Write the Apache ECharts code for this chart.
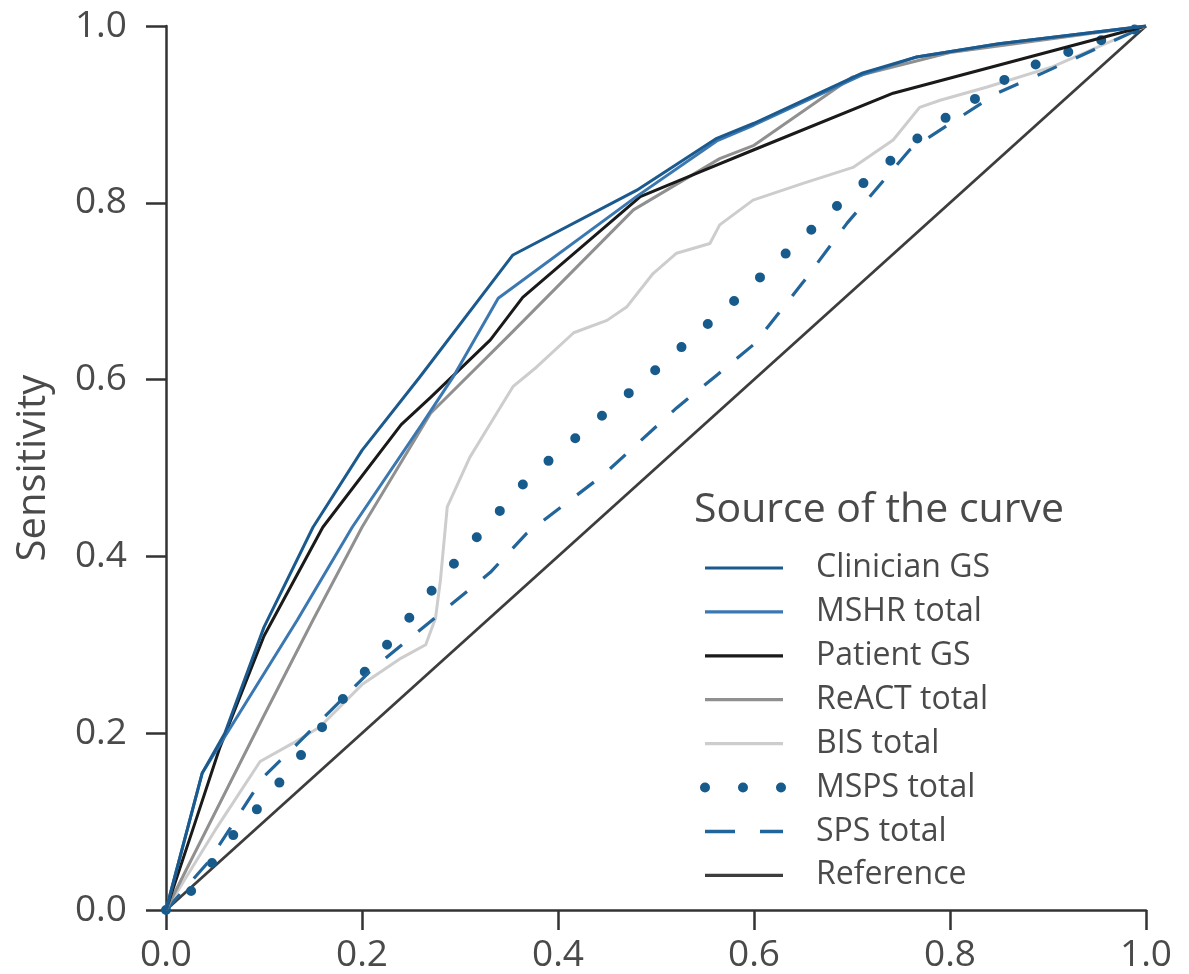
<!DOCTYPE html>
<html>
<head>
<meta charset="utf-8">
<script src="https://cdn.jsdelivr.net/npm/echarts@6/dist/echarts.min.js"></script>
<style>
  html, body { margin: 0; padding: 0; background: #ffffff; }
  #chart { width: 1189px; height: 974px; }
</style>
</head>
<body>
<div id="chart"></div>
<script>
// ---- Data (1 - specificity, sensitivity) ----
const tickLabels = ['0.0', '0.2', '0.4', '0.6', '0.8', '1.0'];
const seriesNames = ['Clinician GS', 'MSHR total', 'Patient GS', 'ReACT total', 'BIS total', 'MSPS total', 'SPS total', 'Reference'];
const legendTitle = 'Source of the curve';
const yAxisName = 'Sensitivity';

const clinicianGS = [[0,0],[0.037,0.155],[0.06,0.2],[0.1,0.32],[0.15,0.433],[0.2,0.52],[0.259,0.603],[0.354,0.741],[0.48,0.814],[0.562,0.873],[0.6,0.89],[0.711,0.947],[0.766,0.965],[0.85,0.98],[1,1]];
const mshrTotal = [[0,0],[0.037,0.155],[0.134,0.328],[0.19,0.433],[0.259,0.546],[0.293,0.603],[0.339,0.692],[0.48,0.807],[0.562,0.87],[0.6,0.888],[0.711,0.945],[0.766,0.965],[0.85,0.98],[1,1]];
const patientGS = [[0,0],[0.03,0.1],[0.055,0.184],[0.1,0.31],[0.16,0.433],[0.24,0.549],[0.27,0.58],[0.331,0.645],[0.364,0.693],[0.484,0.807],[0.545,0.835],[0.6,0.86],[0.742,0.924],[0.973,0.992],[1,1]];
const reactTotal = [[0,0],[0.1,0.22],[0.15,0.328],[0.2,0.433],[0.27,0.562],[0.35,0.65],[0.477,0.792],[0.565,0.85],[0.6,0.865],[0.7,0.942],[0.8,0.97],[1,1]];
const bisTotal = [[0,0],[0.05,0.09],[0.096,0.168],[0.13,0.189],[0.157,0.207],[0.2,0.255],[0.24,0.285],[0.265,0.3],[0.275,0.33],[0.28,0.373],[0.287,0.456],[0.31,0.512],[0.327,0.543],[0.354,0.592],[0.378,0.614],[0.416,0.653],[0.45,0.667],[0.47,0.682],[0.497,0.72],[0.521,0.743],[0.555,0.754],[0.565,0.775],[0.599,0.803],[0.65,0.822],[0.701,0.84],[0.742,0.871],[0.769,0.908],[0.79,0.916],[0.838,0.931],[0.905,0.954],[1,1]];
const mspsTotal = [[0,0],[0.012,0],[0.031,0.03],[0.075,0.094],[0.1,0.122],[0.144,0.184],[0.186,0.247],[0.256,0.341],[0.3,0.4],[0.371,0.49],[0.48,0.592],[0.589,0.698],[0.695,0.807],[0.78,0.885],[0.868,0.948],[0.94,0.979],[1,1]];
const spsTotal = [[0,0],[0.043,0.054],[0.07,0.1],[0.099,0.15],[0.135,0.189],[0.21,0.272],[0.331,0.382],[0.368,0.426],[0.446,0.492],[0.521,0.568],[0.562,0.605],[0.6,0.64],[0.65,0.71],[0.695,0.777],[0.759,0.86],[0.848,0.924],[0.895,0.947],[1,1]];
const referenceLine = [[0,0],[1,1]];

const seriesData = [clinicianGS, mshrTotal, patientGS, reactTotal, bisTotal, mspsTotal, spsTotal, referenceLine];

// ---- Styles ----
const FONT = '"Open Sans", "Noto Sans", sans-serif';
const TEXT = '#4a4a4a';
const AXIS = '#333333';
const colors = ['#1b5a8e', '#3b78b1', '#1a1a1a', '#909090', '#cdcdcd', '#175b8c', '#22659a', '#3d3d3d'];
const widths = [3, 3, 3, 3, 3, 10, 3.2, 2.8];
const types = ['solid', 'solid', 'solid', 'solid', 'solid', [0, 35], [21, 21], 'solid'];
const caps = ['butt', 'butt', 'butt', 'butt', 'butt', 'round', 'butt', 'butt'];
const zs = [8, 7, 6, 5, 3, 4, 4, 2];
const legendTypes = ['solid', 'solid', 'solid', 'solid', 'solid', [0, 38], [30, 25], 'solid'];
const legendWidths = [3.2, 3.2, 3.2, 3.2, 3.2, 10, 3.5, 3.2];

const chart = echarts.init(document.getElementById('chart'), null, { renderer: 'canvas' });

const series = seriesNames.map((name, i) => ({
  name: name,
  type: 'line',
  data: seriesData[i],
  symbol: 'none',
  showSymbol: false,
  smooth: false,
  z: zs[i],
  animation: false,
  itemStyle: { color: colors[i] },
  lineStyle: { color: colors[i], width: widths[i], type: types[i], cap: caps[i], join: 'round' }
}));

const axisCommon = {
  type: 'value',
  min: 0,
  max: 1,
  interval: 0.2,
  splitLine: { show: false },
  axisLine: { show: true, lineStyle: { color: AXIS, width: 2.5 } },
  axisTick: { show: true, inside: false, length: 20, lineStyle: { color: AXIS, width: 2.5 } },
  axisLabel: {
    color: TEXT,
    fontFamily: FONT,
    fontSize: 37,
    showMinLabel: true,
    showMaxLabel: true,
    formatter: function (v) { return tickLabels[Math.round(v / 0.2)]; }
  }
};

const option = {
  backgroundColor: '#ffffff',
  animation: false,
  grid: { left: 166, right: 43, top: 26, bottom: 62, containLabel: false },
  xAxis: Object.assign({}, axisCommon, {
    axisLabel: Object.assign({}, axisCommon.axisLabel, { margin: 27 })
  }),
  yAxis: Object.assign({}, axisCommon, {
    axisLabel: Object.assign({}, axisCommon.axisLabel, { margin: 39 }),
    name: yAxisName,
    nameLocation: 'middle',
    nameRotate: 90,
    nameGap: 112,
    nameTextStyle: { color: TEXT, fontFamily: FONT, fontSize: 40 }
  }),
  title: {
    text: legendTitle,
    left: 694,
    top: 490,
    padding: 0,
    textStyle: { color: TEXT, fontFamily: FONT, fontSize: 41, fontWeight: 'normal' }
  },
  legend: {
    show: true,
    orient: 'vertical',
    left: 700,
    top: 552,
    padding: 0,
    itemWidth: 78,
    itemHeight: 30,
    itemGap: 11.9,
    selectedMode: false,
    itemStyle: { color: 'rgba(0,0,0,0)', borderWidth: 0, opacity: 0 },
    textStyle: { color: TEXT, fontFamily: FONT, fontSize: 32, padding: [0, 0, 0, 28] },
    data: seriesNames.map((name, i) => ({
      name: name,
      lineStyle: { color: colors[i], width: legendWidths[i], type: legendTypes[i], cap: caps[i], opacity: 1 }
    }))
  },
  series: series
};

chart.setOption(option);
</script>
</body>
</html>
